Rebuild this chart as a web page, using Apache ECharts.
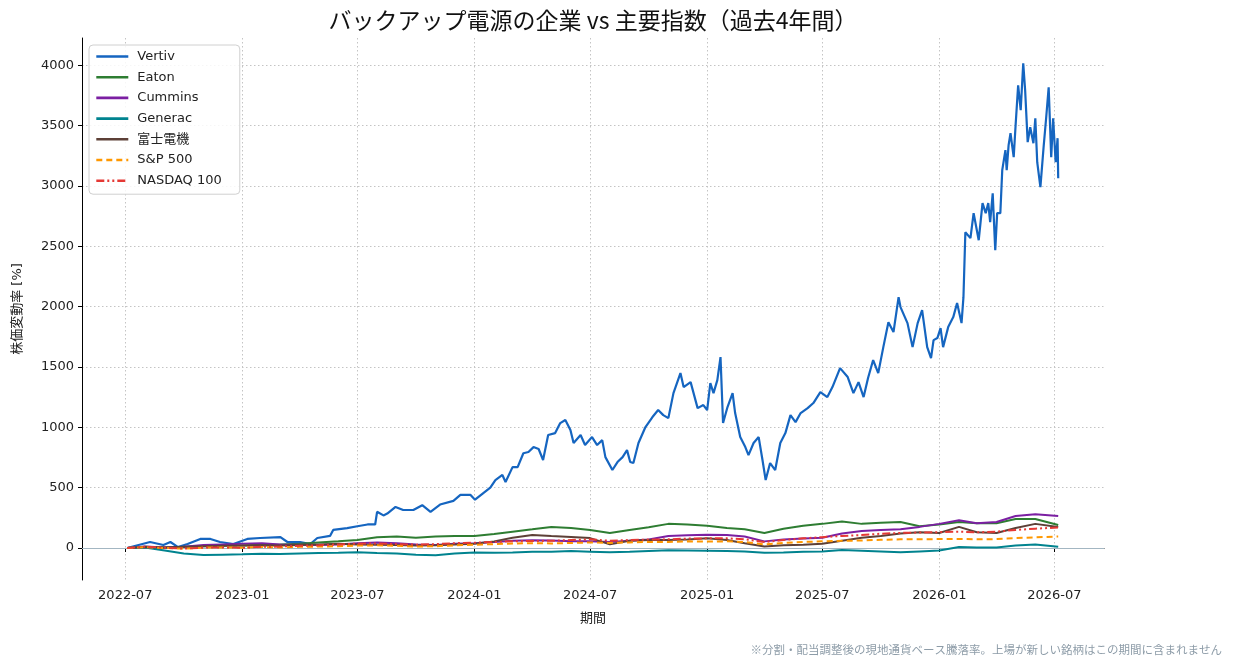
<!DOCTYPE html>
<html>
<head>
<meta charset="utf-8">
<title>バックアップ電源の企業 vs 主要指数</title>
<script src="https://cdn.jsdelivr.net/npm/echarts@6/dist/echarts.min.js"></script>
<style>
  html, body { margin: 0; padding: 0; background: #fff; }
  #main { width: 1234px; height: 667px; }
</style>
</head>
<body>
<div id="main"></div>
<script>
// 目盛り
var tickLabels = ['2022-07', '2023-01', '2023-07', '2024-01', '2024-07', '2025-01', '2025-07', '2026-01', '2026-07'];
var yTicks = [0, 500, 1000, 1500, 2000, 2500, 3000, 3500, 4000];

// Vertiv（値動きが大きいので細かめに読む）
var vertivDates = [
  '2022-07-04','2022-08-09','2022-08-30','2022-09-10','2022-09-22','2022-10-07','2022-10-27','2022-11-12','2022-11-27','2022-12-18',
  '2023-01-09','2023-01-29','2023-03-02','2023-03-13','2023-04-02','2023-04-18','2023-04-29','2023-05-19','2023-05-24','2023-06-15',
  '2023-07-01','2023-07-17','2023-07-29','2023-08-01','2023-08-11','2023-08-17','2023-08-30','2023-09-11','2023-09-27','2023-10-11',
  '2023-10-24','2023-11-08','2023-11-29','2023-12-10','2023-12-26','2024-01-02','2024-01-15','2024-01-26','2024-02-03','2024-02-14',
  '2024-02-19','2024-03-01','2024-03-09','2024-03-18','2024-03-26','2024-04-03','2024-04-11','2024-04-18','2024-04-26','2024-05-07',
  '2024-05-15','2024-05-23','2024-05-31','2024-06-05','2024-06-16','2024-06-23','2024-07-04','2024-07-12','2024-07-20','2024-07-25',
  '2024-08-05','2024-08-13','2024-08-21','2024-08-28','2024-09-02','2024-09-07','2024-09-15','2024-09-26','2024-10-07','2024-10-16',
  '2024-10-24','2024-11-01','2024-11-09','2024-11-20','2024-11-25','2024-12-06','2024-12-17','2024-12-26','2025-01-01','2025-01-06',
  '2025-01-11','2025-01-17','2025-01-22','2025-01-26','2025-02-02','2025-02-10','2025-02-14','2025-02-22','2025-03-02','2025-03-07',
  '2025-03-15','2025-03-23','2025-03-29','2025-04-03','2025-04-10','2025-04-18','2025-04-26','2025-05-04','2025-05-12','2025-05-20',
  '2025-05-28','2025-06-08','2025-06-17','2025-06-28','2025-07-09','2025-07-17','2025-07-29','2025-08-10','2025-08-19','2025-08-27',
  '2025-09-04','2025-09-11','2025-09-19','2025-09-27','2025-10-05','2025-10-13','2025-10-21','2025-10-29','2025-11-01','2025-11-12',
  '2025-11-20','2025-11-28','2025-12-05','2025-12-13','2025-12-19','2025-12-23','2025-12-29','2026-01-03','2026-01-07','2026-01-15',
  '2026-01-23','2026-01-29','2026-02-05','2026-02-08','2026-02-11','2026-02-19','2026-02-24','2026-03-04','2026-03-10','2026-03-15',
  '2026-03-19','2026-03-22','2026-03-26','2026-03-30','2026-04-02','2026-04-07','2026-04-10','2026-04-15','2026-04-17','2026-04-20',
  '2026-04-23','2026-04-28','2026-05-01','2026-05-05','2026-05-09','2026-05-13','2026-05-16','2026-05-20','2026-05-24','2026-05-29',
  '2026-06-01','2026-06-04','2026-06-09','2026-06-14','2026-06-18','2026-06-22','2026-06-26','2026-06-29','2026-07-03','2026-07-06',
  '2026-07-07'
];
var vertivValues = [
  0, 50, 25, 50, 8, 33, 75, 75, 50, 33,
  75, 83, 90, 50, 50, 33, 83, 100, 150, 165,
  180, 195, 195, 300, 270, 285, 340, 315, 315, 355,
  300, 360, 390, 440, 440, 400, 455, 500, 563, 605,
  547, 670, 670, 785, 795, 836, 820, 729, 936, 952,
  1035, 1060, 977, 870, 936, 853, 919, 853, 894, 753,
  646, 712, 753, 811, 712, 704, 870, 1002, 1085, 1143,
  1101, 1076, 1283, 1449, 1333, 1374, 1159, 1184, 1143, 1366,
  1283, 1391, 1582, 1035, 1168, 1283, 1118, 919, 836, 770,
  870, 919, 729, 563, 704, 646, 870, 952, 1101, 1043,
  1118, 1159, 1201, 1292, 1250, 1333, 1490, 1416, 1283, 1374,
  1250, 1408, 1557, 1449, 1664, 1871, 1789, 2078, 1996, 1863,
  1664, 1863, 1971, 1664, 1573, 1722, 1739, 1822, 1664, 1830,
  1913, 2029, 1863, 2078, 2616, 2567, 2774, 2550, 2857, 2774,
  2857, 2699, 2939, 2467, 2774, 2774, 3130, 3296, 3130, 3337,
  3436, 3238, 3502, 3833, 3627, 4016, 3792, 3362, 3486, 3353,
  3560, 3196, 2989, 3320, 3560, 3817, 3238, 3560, 3196, 3395,
  3064
];

// その他の銘柄・指数（月次）
var monthDates = [
  '2022-07-04','2022-08-01','2022-09-01','2022-10-01','2022-11-01','2022-12-01',
  '2023-01-01','2023-02-01','2023-03-01','2023-04-01','2023-05-01','2023-06-01',
  '2023-07-01','2023-08-01','2023-09-01','2023-10-01','2023-11-01','2023-12-01',
  '2024-01-01','2024-02-01','2024-03-01','2024-04-01','2024-05-01','2024-06-01',
  '2024-07-01','2024-08-01','2024-09-01','2024-10-01','2024-11-01','2024-12-01',
  '2025-01-01','2025-02-01','2025-03-01','2025-04-01','2025-05-01','2025-06-01',
  '2025-07-01','2025-08-01','2025-09-01','2025-10-01','2025-11-01','2025-12-01',
  '2026-01-01','2026-02-01','2026-03-01','2026-04-01','2026-05-01','2026-06-01',
  '2026-07-07'
];
var eatonValues = [
  0, 10, 5, 8, 15, 18,
  20, 28, 30, 35, 45, 55,
  66, 90, 95, 85, 95, 99,
  99, 116, 135, 155, 175, 165,
  150, 125, 150, 172, 200, 195,
  185, 165, 155, 125, 160, 185,
  200, 220, 200, 210, 215, 180,
  195, 215, 205, 205, 240, 240,
  190
];
var cumminsValues = [
  0, 12, 5, 10, 25, 30,
  35, 40, 30, 28, 25, 30,
  40, 45, 40, 30, 25, 35,
  40, 50, 60, 65, 62, 55,
  55, 50, 60, 70, 100, 105,
  110, 108, 95, 55, 70, 78,
  85, 120, 140, 150, 155, 175,
  200, 230, 205, 215, 265, 280,
  265
];
var generacValues = [
  0, 5, -20, -45, -58, -55,
  -52, -48, -50, -45, -42, -40,
  -36, -42, -45, -55, -60, -45,
  -38, -40, -38, -32, -30, -25,
  -30, -36, -32, -25, -18, -20,
  -22, -25, -28, -40, -38, -30,
  -28, -17, -22, -28, -36, -28,
  -20, 8, 5, 5, 20, 30,
  10
];
var fujiValues = [
  0, 8, 5, 10, 15, 18,
  20, 22, 20, 25, 30, 35,
  30, 28, 25, 20, 22, 30,
  36, 55, 85, 108, 100, 92,
  82, 30, 60, 66, 66, 70,
  80, 66, 40, 12, 22, 28,
  35, 60, 85, 100, 120, 130,
  125, 175, 130, 125, 165, 200,
  175
];
var spValues = [
  0, 8, 0, -5, 3, 5,
  3, 8, 5, 10, 12, 15,
  20, 22, 18, 12, 15, 22,
  27, 32, 37, 40, 38, 42,
  46, 42, 46, 50, 50, 55,
  54, 55, 50, 30, 42, 50,
  55, 60, 62, 68, 72, 72,
  74, 75, 72, 74, 82, 88,
  95
];
var nasdaqValues = [
  0, 10, 2, -5, 3, 5,
  2, 10, 12, 18, 22, 30,
  36, 38, 32, 28, 32, 40,
  44, 50, 56, 58, 60, 66,
  72, 60, 66, 70, 72, 78,
  80, 80, 72, 50, 66, 80,
  90, 100, 108, 118, 125, 128,
  132, 135, 130, 135, 150, 160,
  170
];

var FONT = '"Noto Sans CJK JP", sans-serif';
var LABEL_FONT = '"DejaVu Sans", "Noto Sans CJK JP", sans-serif';

function toTime(s) {
  return new Date(s + 'T00:00:00Z').getTime();
}
function pairs(dates, values) {
  var out = [];
  for (var i = 0; i < values.length; i++) {
    out.push([toTime(dates[i]), values[i]]);
  }
  return out;
}

var xTicks = tickLabels.map(function (t) { return toTime(t + '-01'); });

function lineSeries(name, dates, values, color, type, width) {
  return {
    name: name,
    type: 'line',
    data: pairs(dates, values),
    symbol: 'none',
    showSymbol: false,
    lineStyle: { color: color, width: width || 2, type: type || 'solid' },
    itemStyle: { color: color },
    emphasis: { disabled: true },
    z: 3
  };
}

var series = [
  lineSeries('Vertiv', vertivDates, vertivValues, '#1565c0', 'solid', 2.2),
  lineSeries('Eaton', monthDates, eatonValues, '#2e7d32'),
  lineSeries('Cummins', monthDates, cumminsValues, '#7b1fa2'),
  lineSeries('Generac', monthDates, generacValues, '#00838f'),
  lineSeries('富士電機', monthDates, fujiValues, '#5d4037'),
  lineSeries('S&P 500', monthDates, spValues, '#ff9800', [6, 4]),
  lineSeries('NASDAQ 100', monthDates, nasdaqValues, '#e53935', [8, 3, 2, 3, 2, 3])
];
// 0%の基準線
series[0].markLine = {
  silent: true,
  symbol: 'none',
  label: { show: false },
  lineStyle: { color: '#a3b6c2', width: 1, type: 'solid' },
  data: [{ yAxis: 0 }],
  z: 1
};

var gridLine = { show: true, lineStyle: { color: '#c4c4c4', type: [1.5, 2.5], width: 1 } };

var myChart = echarts.init(document.getElementById('main'));
myChart.setOption({
  animation: false,
  backgroundColor: '#fff',
  textStyle: { fontFamily: FONT },
  grid: { left: 82, right: 130, top: 38, bottom: 87, containLabel: false },
  graphic: [
    {
      type: 'text', x: 593, y: 20,
      style: {
        text: 'バックアップ電源の企業 vs 主要指数（過去4年間）',
        font: '23px ' + FONT, fill: '#111', textAlign: 'center', textVerticalAlign: 'middle'
      }
    },
    {
      type: 'text', x: 1222, y: 650,
      style: {
        text: '※分割・配当調整後の現地通貨ベース騰落率。上場が新しい銘柄はこの期間に含まれません',
        font: '11.5px ' + FONT, fill: '#8d9ca8', textAlign: 'right', textVerticalAlign: 'middle'
      }
    }
  ],
  legend: {
    orient: 'vertical',
    left: 89, top: 45,
    padding: [5, 18, 7, 6],
    itemWidth: 32, itemHeight: 14, itemGap: 7.7,
    borderColor: '#d0d0d0', borderWidth: 1, borderRadius: 4,
    backgroundColor: 'rgba(255,255,255,0.85)',
    itemStyle: { opacity: 0 },
    lineStyle: { width: 2.6 },
    textStyle: { fontSize: 13, color: '#222', fontFamily: LABEL_FONT, padding: [0, 0, 0, 4] },
    data: ['Vertiv', 'Eaton', 'Cummins', 'Generac', '富士電機', 'S&P 500', 'NASDAQ 100']
  },
  xAxis: {
    type: 'value',
    min: toTime('2022-04-24'),
    max: toTime('2026-09-17'),
    name: '期間',
    nameLocation: 'middle',
    nameGap: 32,
    nameTextStyle: { fontSize: 13, color: '#222', fontFamily: LABEL_FONT },
    axisLine: { lineStyle: { color: '#000', width: 1 } },
    axisTick: { show: true, length: 4, lineStyle: { color: '#000' }, customValues: xTicks },
    axisLabel: {
      fontSize: 13, color: '#222', margin: 9, fontFamily: LABEL_FONT,
      customValues: xTicks,
      formatter: function (v) {
        var i = xTicks.indexOf(v);
        return i >= 0 ? tickLabels[i] : '';
      }
    },
    splitLine: gridLine
  },
  yAxis: {
    type: 'value',
    min: -265,
    max: 4225,
    name: '株価変動率 [%]',
    nameLocation: 'middle',
    nameGap: 58,
    nameTextStyle: { fontSize: 13, color: '#222', fontFamily: LABEL_FONT },
    axisLine: { show: true, lineStyle: { color: '#000', width: 1 } },
    axisTick: { show: true, length: 4, lineStyle: { color: '#000' }, customValues: yTicks },
    axisLabel: {
      fontSize: 13, color: '#222', margin: 8, fontFamily: LABEL_FONT,
      customValues: yTicks,
      formatter: function (v) { return String(v); }
    },
    splitLine: gridLine
  },
  series: series
});
</script>
</body>
</html>
